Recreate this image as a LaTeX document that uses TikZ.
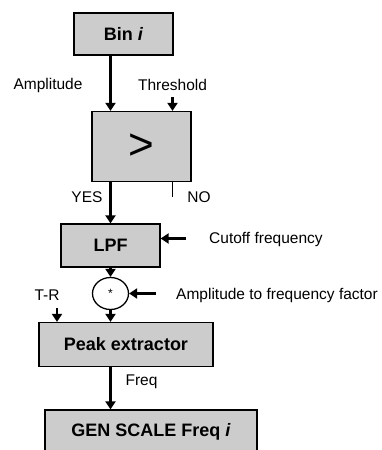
\documentclass[tikz,border=0pt]{standalone}
\usepackage{fontspec}
\setmainfont{Liberation Sans}
\usetikzlibrary{arrows.meta, shapes.geometric}
\definecolor{boxgray}{RGB}{204,204,204}

\begin{document}
\begin{tikzpicture}[x=1pt, y=-1pt,
  block/.style={rectangle, draw, fill=boxgray, line width=1.3pt, inner sep=0pt, text centered, font=\fontsize{18}{20}\selectfont\bfseries},
  lbl/.style={inner sep=1pt, font=\fontsize{15.5}{18}\selectfont},
  line/.style={draw, line width=2.4pt, -{Triangle[length=8pt, width=10pt]}}
]
\useasboundingbox (0,0) rectangle (382,450);

% Blocks
\node[block, minimum width=99pt, minimum height=42pt] (bin) at (123.5,34) {Bin \textit{i}};
\node[block, minimum width=99pt, minimum height=70pt, font=\fontsize{44}{44}\selectfont] (cmp) at (141.5,146.5) {>};
\node[block, minimum width=99pt, minimum height=43pt] (lpf) at (110.5,245.5) {LPF};
\node[ellipse, draw, fill=white, line width=1.3pt, minimum width=36pt, minimum height=32pt, inner sep=0pt, font=\fontsize{12}{12}\selectfont] (mul) at (110.5,293.5) {*};
\node[block, minimum width=174pt, minimum height=44pt] (peak) at (126,344.5) {Peak extractor};
\node[block, minimum width=212pt, minimum height=44pt] (gen) at (151,432) {GEN SCALE Freq \textit{i}};

% Labels
\node[lbl] (amp) at (48,85) {Amplitude};
\node[lbl] (thr) at (172.5,85) {Threshold};
\node[lbl] (yes) at (87,197) {YES};
\node[lbl] (no) at (199,197) {NO};
\node[lbl, anchor=west] (cut) at (208,239) {Cutoff frequency};
\node[lbl, anchor=west] (fac) at (175,295) {Amplitude to frequency factor};
\node[lbl] (tr) at (47,295) {T-R};
\node[lbl] (freq) at (141.5,382) {Freq};

% Free ends
\coordinate (thrin) at (172.5,97);
\coordinate (notick) at (172.5,197);
\coordinate (cutin) at (186,238.5);
\coordinate (facin) at (156,293.5);
\coordinate (trin) at (57,308);

% Connections
\draw[line] (bin.south -| mul) -- (cmp.north -| mul);
\draw[line] (thrin) -- (cmp.north -| thrin);
\draw[line] (cmp.south -| mul) -- (lpf.north -| mul);
\draw[line width=1.4pt] (cmp.south -| notick) -- (notick);
\draw[line] (cutin) -- (lpf.east |- cutin);
\draw[line] (lpf.south -| mul) -- (mul.north);
\draw[line] (facin) -- (mul.east);
\draw[line] (trin) -- (peak.north -| trin);
\draw[line] (mul.south) -- (peak.north -| mul);
\draw[line] (peak.south -| mul) -- (gen.north -| mul);

\end{tikzpicture}
\end{document}
